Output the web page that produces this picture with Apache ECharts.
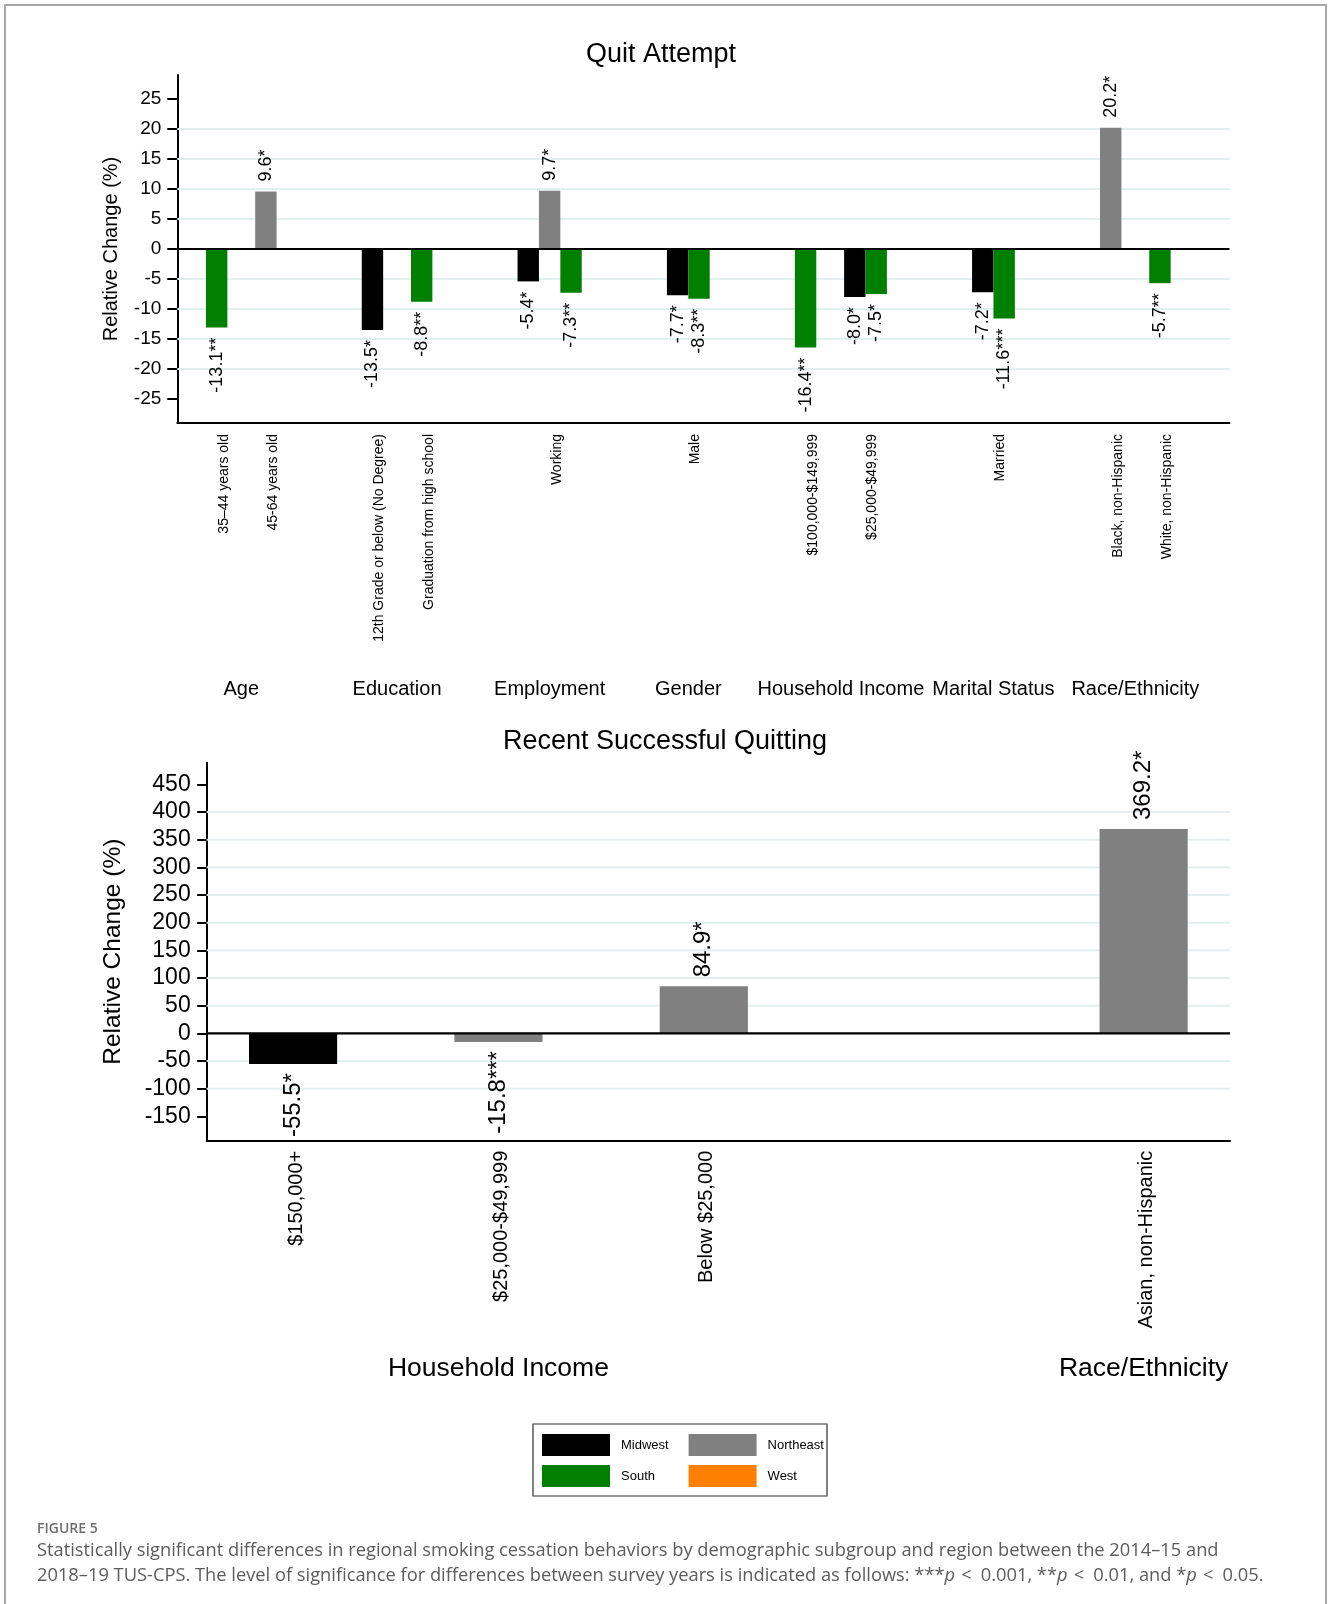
<!DOCTYPE html>
<html>
<head>
<meta charset="utf-8">
<script src="https://cdn.jsdelivr.net/npm/echarts@6/dist/echarts.min.js"></script>
<style>
  html, body { margin: 0; padding: 0; background: #ffffff; }
  #chart { width: 1328px; height: 1604px; }
</style>
</head>
<body>
<div id="chart"></div>
<script>
// ---------- data ----------
const REGIONS = ['Midwest', 'Northeast', 'South', 'West'];
const REGION_COLORS = ['#000000', '#808080', '#007f00', '#ff8000'];

// Quit attempt: relative change (%) by subgroup; null = not significant
const quitGroups = ['Age', 'Education', 'Employment', 'Gender', 'Household Income', 'Marital Status', 'Race/Ethnicity'];
const quitSubgroups = ['35–44 years old', '45-64 years old', '12th Grade or below (No Degree)', 'Graduation from high school',
  'Working', 'Male', '$100,000-$149,999', '$25,000-$49,999', 'Married', 'Black, non-Hispanic', 'White, non-Hispanic'];
const quitSubgroupGroup = [0, 0, 1, 1, 2, 3, 4, 4, 5, 6, 6];
const quitMidwest   = [null, null, -13.5, null, -5.4, -7.7, null, -8.0, -7.2, null, null];
const quitNortheast = [null, 9.6, null, null, 9.7, null, null, null, null, 20.2, null];
const quitSouth     = [-13.1, null, null, -8.8, -7.3, -8.3, -16.4, -7.5, -11.6, null, -5.7];
const quitWest      = [null, null, null, null, null, null, null, null, null, null, null];
const quitMidwestSig   = ['', '', '*', '', '*', '*', '', '*', '*', '', ''];
const quitNortheastSig = ['', '*', '', '', '*', '', '', '', '', '*', ''];
const quitSouthSig     = ['**', '', '', '**', '**', '**', '**', '*', '***', '', '**'];
const quitWestSig      = ['', '', '', '', '', '', '', '', '', '', ''];
const quitTicks = [-25, -20, -15, -10, -5, 0, 5, 10, 15, 20, 25];
const quitGridLines = [-20, -15, -10, -5, 5, 10, 15, 20];

// Recent successful quitting
const successGroups = ['Household Income', 'Race/Ethnicity'];
const successSubgroups = ['$150,000+', '$25,000-$49,999', 'Below $25,000', 'Asian, non-Hispanic'];
const successSubgroupGroup = [0, 0, 0, 1];
const successMidwest   = [-55.5, null, null, null];
const successNortheast = [null, -15.8, 84.9, 369.2];
const successSouth     = [null, null, null, null];
const successWest      = [null, null, null, null];
const successMidwestSig   = ['*', '', '', ''];
const successNortheastSig = ['', '***', '*', '*'];
const successSouthSig     = ['', '', '', ''];
const successWestSig      = ['', '', '', ''];
const successTicks = [-150, -100, -50, 0, 50, 100, 150, 200, 250, 300, 350, 400, 450];
const successGridLines = [-100, -50, 50, 100, 150, 200, 250, 300, 350, 400];

// ---------- layout helpers ----------
const FONT = '"Liberation Sans", Arial, Helvetica, sans-serif';
const CAPTION_FONT = '"Open Sans", sans-serif';

// Places bars of each subgroup side by side (one unit per bar), with a small
// gap between subgroups and a wide gap between groups.
function layoutPanel(subgroups, subgroupGroup, values, sigs, subGap, groupGap) {
  let cursor = 0;
  let prev = null;
  const bars = REGIONS.map(() => []);
  const subCenters = [];
  const spans = [];
  subgroups.forEach((name, i) => {
    const g = subgroupGroup[i];
    if (prev !== null) cursor += (g === prev ? subGap : groupGap);
    const start = cursor;
    REGIONS.forEach((r, k) => {
      const v = values[k][i];
      if (v == null) return;
      bars[k].push({ x: cursor, value: v, label: v.toFixed(1) + sigs[k][i] });
      cursor += 1;
    });
    subCenters.push((start + cursor) / 2);
    if (!spans[g]) spans[g] = [start, cursor];
    spans[g][1] = cursor;
    prev = g;
  });
  return { bars, subCenters, groupCenters: spans.map(s => (s[0] + s[1]) / 2), end: cursor };
}

function nearestName(v, centers, names) {
  let best = 0;
  centers.forEach((c, i) => { if (Math.abs(c - v) < Math.abs(centers[best] - v)) best = i; });
  return names[best];
}

function barRenderer(items, fontSize, gap) {
  return function (params, api) {
    const it = items[params.dataIndex];
    const base = api.coord([it.x, 0]);
    const tip = api.coord([it.x + 1, it.value]);
    const pos = it.value >= 0;
    return {
      type: 'group',
      children: [
        {
          type: 'rect',
          shape: { x: base[0], y: Math.min(base[1], tip[1]), width: tip[0] - base[0], height: Math.abs(tip[1] - base[1]) },
          style: { fill: api.visual('color') }
        },
        {
          type: 'text',
          x: (base[0] + tip[0]) / 2,
          y: pos ? tip[1] - gap : tip[1] + gap,
          rotation: Math.PI / 2,
          style: {
            text: it.label, fill: '#000', fontSize: fontSize, fontFamily: FONT,
            align: pos ? 'left' : 'right', verticalAlign: 'middle'
          }
        }
      ]
    };
  };
}

function hLineRenderer(color, width) {
  return function (params, api) {
    const cs = params.coordSys;
    const y = api.coord([0, api.value(1)])[1];
    return {
      type: 'line',
      shape: { x1: cs.x, y1: y, x2: cs.x + cs.width, y2: y },
      style: { stroke: color, lineWidth: width }
    };
  };
}

const quit = layoutPanel(quitSubgroups, quitSubgroupGroup,
  [quitMidwest, quitNortheast, quitSouth, quitWest],
  [quitMidwestSig, quitNortheastSig, quitSouthSig, quitWestSig], 1.3, 3.98);
const success = layoutPanel(successSubgroups, successSubgroupGroup,
  [successMidwest, successNortheast, successSouth, successWest],
  [successMidwestSig, successNortheastSig, successSouthSig, successWestSig], 1.33, 3.99);

const quitMin = -1.34, quitMax = quit.end + 2.75;
const successMin = -0.48, successMax = success.end + 0.48;
// rotated subgroup labels sit a little right of their bar centres
const quitLabelPos = quit.subCenters.map(c => c + 0.33);
const successLabelPos = success.subCenters.map(c => c + 0.035);

function valueXAxis(gridIndex, min, max, centers, names, labelOpts, showLine) {
  return {
    type: 'value', gridIndex: gridIndex, position: 'bottom', min: min, max: max,
    axisLine: { show: showLine, onZero: false, lineStyle: { color: '#000', width: 2 } },
    axisTick: { show: false },
    splitLine: { show: false },
    axisLabel: Object.assign({
      customValues: centers,
      color: '#000', fontFamily: FONT,
      formatter: v => nearestName(v, centers, names)
    }, labelOpts)
  };
}

function valueYAxis(gridIndex, min, max, ticks, fontSize, nameSize, nameGap, tickLen) {
  return {
    type: 'value', gridIndex: gridIndex, min: min, max: max,
    name: 'Relative Change (%)', nameLocation: 'middle', nameGap: nameGap,
    nameTextStyle: { fontSize: nameSize, color: '#000', fontFamily: FONT },
    axisLine: { show: true, onZero: false, lineStyle: { color: '#000', width: 2 } },
    axisTick: { show: true, customValues: ticks, length: tickLen, lineStyle: { color: '#000', width: 2 } },
    axisLabel: { customValues: ticks, fontSize: fontSize, color: '#000', fontFamily: FONT, margin: 16 },
    splitLine: { show: false }
  };
}

// legend: two columns (Midwest/South, Northeast/West) inside one framed box
function legendColumn(names, left, padLeft) {
  return {
    data: names, left: left, top: 1424, orient: 'vertical',
    icon: 'rect', itemWidth: 68, itemHeight: 22, itemGap: 9,
    padding: [10, 0, 9, padLeft], selectedMode: false,
    textStyle: { fontSize: 13, color: '#000', fontFamily: FONT, padding: [0, 0, 0, 6] }
  };
}

const series = [];
// light horizontal reference lines
series.push({ type: 'custom', name: 'quitGrid', xAxisIndex: 0, yAxisIndex: 0, z: 1, silent: true,
  renderItem: hLineRenderer('#e4eeee', 2), data: quitGridLines.map(v => [0, v]) });
series.push({ type: 'custom', name: 'successGrid', xAxisIndex: 2, yAxisIndex: 1, z: 1, silent: true,
  renderItem: hLineRenderer('#e4eeee', 2), data: successGridLines.map(v => [0, v]) });
// bars per region
REGIONS.forEach((r, k) => {
  series.push({ type: 'custom', name: r, xAxisIndex: 0, yAxisIndex: 0, z: 2, silent: true,
    itemStyle: { color: REGION_COLORS[k] },
    renderItem: barRenderer(quit.bars[k], 18, 10),
    data: quit.bars[k].map(b => [b.x, b.value]) });
  series.push({ type: 'custom', name: r, xAxisIndex: 2, yAxisIndex: 1, z: 2, silent: true,
    itemStyle: { color: REGION_COLORS[k] },
    renderItem: barRenderer(success.bars[k], 24, 9),
    data: success.bars[k].map(b => [b.x, b.value]) });
});
// zero reference lines
series.push({ type: 'custom', name: 'quitZero', xAxisIndex: 0, yAxisIndex: 0, z: 3, silent: true,
  renderItem: hLineRenderer('#000', 2.2), data: [[0, 0]] });
series.push({ type: 'custom', name: 'successZero', xAxisIndex: 2, yAxisIndex: 1, z: 3, silent: true,
  renderItem: hLineRenderer('#000', 2.2), data: [[0, 0]] });

const option = {
  animation: false,
  backgroundColor: '#ffffff',
  textStyle: { fontFamily: FONT },
  title: [
    { text: 'Quit Attempt', left: 661, top: 41, textAlign: 'center', padding: 0,
      textStyle: { fontSize: 27, fontWeight: 'normal', color: '#000', fontFamily: FONT } },
    { text: 'Recent Successful Quitting', left: 665, top: 728, textAlign: 'center', padding: 0,
      textStyle: { fontSize: 27, fontWeight: 'normal', color: '#000', fontFamily: FONT } }
  ],
  grid: [
    { left: 177.3, top: 75, width: 1052.2, height: 348 },
    { left: 206.7, top: 762.7, width: 1023.3, height: 378 }
  ],
  xAxis: [
    valueXAxis(0, quitMin, quitMax, quitLabelPos, quitSubgroups, { rotate: 90, fontSize: 14, margin: 11 }, true),
    valueXAxis(0, quitMin, quitMax, quit.groupCenters, quitGroups, { fontSize: 20, margin: 266, verticalAlign: 'middle' }, false),
    valueXAxis(1, successMin, successMax, successLabelPos, successSubgroups, { rotate: 90, fontSize: 20, margin: 10 }, true),
    valueXAxis(1, successMin, successMax, success.groupCenters, successGroups, { fontSize: 26.5, margin: 228, verticalAlign: 'middle' }, false)
  ],
  yAxis: [
    valueYAxis(0, -29, 29, quitTicks, 19, 20, 56, 10),
    valueYAxis(1, -194, 489, successTicks, 23, 24.5, 81, 9.5)
  ],
  legend: [
    legendColumn(['Midwest', 'South'], 533, 9),
    legendColumn(['Northeast', 'West'], 688.6, 0)
  ],
  graphic: [
    { type: 'rect', silent: true, z: -1, shape: { x: 5, y: 5, width: 1321, height: 1700 },
      style: { fill: 'none', stroke: '#a8a8a8', lineWidth: 2 } },
    { type: 'rect', silent: true, shape: { x: 533, y: 1424, width: 294, height: 72 },
      style: { fill: 'none', stroke: '#333', lineWidth: 1.2 } },
    { type: 'text', x: 37, y: 1529, silent: true,
      style: { text: 'FIGURE 5', fill: '#6e6e6e', fontSize: 14, fontWeight: 600, fontFamily: CAPTION_FONT, verticalAlign: 'middle' } },
    { type: 'text', x: 37, y: 1551, silent: true,
      style: { text: 'Statistically significant differences in regional smoking cessation behaviors by demographic subgroup and region between the 2014–15 and',
        fill: '#5c5c5c', fontSize: 18.3, fontFamily: CAPTION_FONT, verticalAlign: 'middle' } },
    { type: 'text', x: 37, y: 1576, silent: true,
      style: { text: '2018–19 TUS-CPS. The level of significance for differences between survey years is indicated as follows: ***{i|p}\u2004<\u2002 0.001, **{i|p}\u2004<\u2002 0.01, and *{i|p}\u2004<\u2002 0.05.'.replace(/\u2002 /g, '\u2002'),
        rich: { i: { fontStyle: 'italic', fontSize: 18.3, fill: '#5c5c5c', fontFamily: CAPTION_FONT } },
        fill: '#5c5c5c', fontSize: 18.3, fontFamily: CAPTION_FONT, verticalAlign: 'middle' } }
  ],
  series: series
};

const chart = echarts.init(document.getElementById('chart'), null, { renderer: 'canvas', width: 1328, height: 1604 });
chart.setOption(option);
</script>
</body>
</html>
